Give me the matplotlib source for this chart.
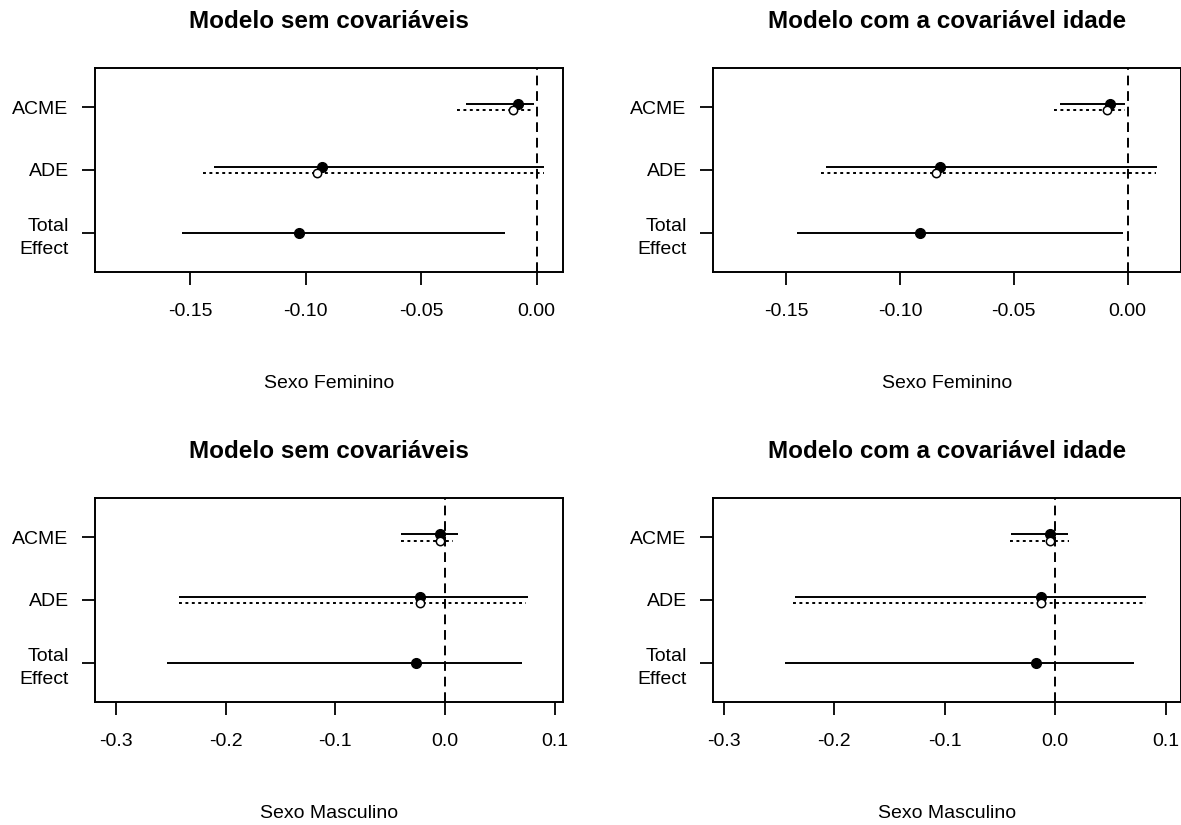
import matplotlib
matplotlib.use("Agg")
import matplotlib.pyplot as plt
import numpy as np

plt.rcParams['font.family'] = ['Liberation Sans', 'DejaVu Sans']
plt.rcParams['axes.unicode_minus'] = False

# effect labels, top to bottom
effects = ["ACME", "ADE", "Total\nEffect"]
titles = ["Modelo sem covariáveis", "Modelo com a covariável idade",
          "Modelo sem covariáveis", "Modelo com a covariável idade"]
xlabels = ["Sexo Feminino", "Sexo Feminino", "Sexo Masculino", "Sexo Masculino"]

# treated (solid, filled point): ACME, ADE, Total
# control (dotted, open point): ACME, ADE
fem_sem_est_t = [-0.0080, -0.0928, -0.1029]
fem_sem_lo_t = [-0.0307, -0.1396, -0.1534]
fem_sem_hi_t = [-0.0010, 0.0032, -0.0136]
fem_sem_est_c = [-0.0101, -0.0950]
fem_sem_lo_c = [-0.0346, -0.1443]
fem_sem_hi_c = [-0.0010, 0.0032]

fem_idade_est_t = [-0.0075, -0.0825, -0.0913]
fem_idade_lo_t = [-0.0295, -0.1327, -0.1454]
fem_idade_hi_t = [-0.0012, 0.0130, -0.0022]
fem_idade_est_c = [-0.0092, -0.0844]
fem_idade_lo_c = [-0.0323, -0.1349]
fem_idade_hi_c = [-0.0012, 0.0124]

mas_sem_est_t = [-0.0046, -0.0225, -0.0267]
mas_sem_lo_t = [-0.0401, -0.2424, -0.2536]
mas_sem_hi_t = [0.0115, 0.0759, 0.0702]
mas_sem_est_c = [-0.0044, -0.0225]
mas_sem_lo_c = [-0.0401, -0.2424]
mas_sem_hi_c = [0.0076, 0.0735]

mas_idade_est_t = [-0.0048, -0.0127, -0.0169]
mas_idade_lo_t = [-0.0395, -0.2351, -0.2448]
mas_idade_hi_t = [0.0118, 0.0822, 0.0713]
mas_idade_est_c = [-0.0042, -0.0127]
mas_idade_lo_c = [-0.0410, -0.2370]
mas_idade_hi_c = [0.0124, 0.0822]

panels = [
    (fem_sem_est_t, fem_sem_lo_t, fem_sem_hi_t, fem_sem_est_c, fem_sem_lo_c, fem_sem_hi_c),
    (fem_idade_est_t, fem_idade_lo_t, fem_idade_hi_t, fem_idade_est_c, fem_idade_lo_c, fem_idade_hi_c),
    (mas_sem_est_t, mas_sem_lo_t, mas_sem_hi_t, mas_sem_est_c, mas_sem_lo_c, mas_sem_hi_c),
    (mas_idade_est_t, mas_idade_lo_t, mas_idade_hi_t, mas_idade_est_c, mas_idade_lo_c, mas_idade_hi_c),
]

top_ticks = [-0.15, -0.10, -0.05, 0.00]
bottom_ticks = [-0.3, -0.2, -0.1, 0.0, 0.1]
xlims = [(-0.1912, 0.0114), (-0.1822, 0.0235), (-0.3189, 0.1075), (-0.3098, 0.1140)]

# axes boxes in pixels (left, top, right, bottom)
W, H = 1181, 825
boxes = [(95, 68, 563, 272), (713, 68, 1181, 272),
         (95, 498, 563, 702), (713, 498, 1181, 702)]

fig = plt.figure(figsize=(W / 100, H / 100), dpi=100)

ypos = np.array([3, 2, 1])
off = 0.055
lw = 1.4

for i, (est_t, lo_t, hi_t, est_c, lo_c, hi_c) in enumerate(panels):
    x0, y0, x1, y1 = boxes[i]
    ax = fig.add_axes([x0 / W, 1 - y1 / H, (x1 - x0) / W, (y1 - y0) / H])

    # treated: solid lines, filled points
    yt = ypos.astype(float)
    yt[:2] += off
    ax.hlines(yt, lo_t, hi_t, colors='black', lw=lw)
    ax.plot(est_t, yt, 'o', color='black', ms=7, zorder=3)

    # control: dotted lines, open points
    yc = ypos[:2] - off
    ax.hlines(yc, lo_c, hi_c, colors='black', lw=lw, linestyles=(0, (1.5, 1.8)))
    ax.plot(est_c, yc, 'o', mfc='white', mec='black', mew=1.1, ms=6, zorder=3)

    ax.axvline(0, color='black', lw=lw, ls=(0, (5, 3)))

    ax.set_xlim(*xlims[i])
    ax.set_ylim(0.38, 3.62)
    ticks = top_ticks if i < 2 else bottom_ticks
    ax.set_xticks(ticks)
    if i < 2:
        ax.set_xticklabels([f"{t:.2f}" for t in ticks])
    else:
        ax.set_xticklabels([f"{t:.1f}" for t in ticks])
    ax.set_yticks(ypos)
    ax.set_yticklabels(effects, linespacing=1.5)
    for lab in ax.get_yticklabels():
        lab.set_y(lab.get_position()[1])

    ax.tick_params(axis='both', length=9.5, width=1.3, labelsize=14, colors='black')
    ax.tick_params(axis='x', pad=13)
    ax.tick_params(axis='y', pad=9.5)
    for s in ax.spines.values():
        s.set_linewidth(1.4)

    ax.set_title(titles[i], fontsize=17.5, fontweight='bold', pad=29)
    ax.set_xlabel(xlabels[i], fontsize=14)
    ax.xaxis.set_label_coords(0.5, -0.545)
    ax.xaxis.label.set_va('center')

fig.savefig("out.png", dpi=100)
